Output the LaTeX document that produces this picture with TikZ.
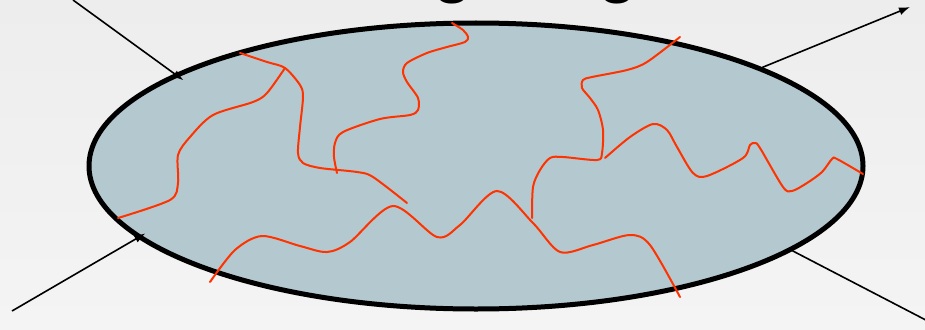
\documentclass[tikz,border=0pt]{standalone}
\usepackage{fontspec}
\newfontfamily\cimbetu{Liberation Sans}
\usetikzlibrary{arrows.meta,shapes.geometric}
\definecolor{hatterfent}{RGB}{237,237,237}
\definecolor{hatterlent}{RGB}{244,244,244}
\definecolor{kekes}{RGB}{180,200,207}
\definecolor{lancszin}{RGB}{255,51,0}
\tikzset{
  tartaly/.style={ellipse,draw,line width=5pt,fill=kekes,minimum width=774pt,minimum height=286pt,
                  inner sep=0pt},
  lanc/.style={lancszin,line width=2pt,line cap=round},
  nyil/.style={-{Latex[length=11pt,width=8pt]},line width=1.6pt},
  vonal/.style={line width=1.6pt},
  cim/.style={font=\cimbetu\bfseries\fontsize{64}{66}\selectfont,inner sep=0pt,anchor=base west},
}
\begin{document}
\begin{tikzpicture}[x=1pt,y=-1pt]
  \useasboundingbox (0,0) rectangle (925,329);
  \fill[top color=hatterfent,bottom color=hatterlent] (0,0) rectangle (925,329);
  \node[cim] (g1) at (433,-9) {g};
  \node[cim] (g2) at (598,-9) {g};
  \node[tartaly] (tartaly) at (476,166) {};
  \coordinate (be1) at (73,0);
  \coordinate (be2) at (12,311);
  \coordinate (ki1) at (910,7);
  \coordinate (ki2) at (945,330);
  \draw[nyil,shorten >=-11pt] (be1) -- (tartaly.163.4);
  \draw[nyil,shorten >=-9pt] (be2) -- (tartaly.192.4);
  \draw[nyil] (tartaly.19.2) -- (ki1);
  \draw[vonal] (tartaly.345.7) -- (ki2);
  \draw[lanc] plot[smooth] coordinates {(118,218) (170,200) (178,183) (178,155) (190,137) (213,115)
    (253,102) (267,93) (285,68)};
  \draw[lanc] plot[smooth] coordinates {(240,53) (267,62) (285,68) (300,85) (303,97) (300,127)
    (298,153) (303,163) (320,168) (357,172) (373,177) (407,203)};
  \draw[lanc] plot[smooth] coordinates {(452,23) (463,30) (468,37) (465,42) (447,47) (427,53)
    (407,63) (403,72) (407,82) (418,98) (418,110) (410,115) (380,119) (343,132) (335,143)
    (334,157) (337,173)};
  \draw[lanc] plot[smooth] coordinates {(210,282) (235,250) (262,236) (300,246) (327,252) (350,242)
    (393,206) (437,237) (460,225) (497,191) (533,223) (560,252) (593,245) (630,235) (650,245)
    (680,297)};
  \draw[lanc] plot[smooth] coordinates {(532,218) (533,187) (540,170) (550,158) (563,157) (597,160)
    (602,153) (603,130) (598,110) (590,98) (582,88) (583,80) (592,77) (627,70) (647,62) (680,37)};
  \draw[lanc] plot[smooth] coordinates {(605,158) (630,137) (653,124) (667,130) (677,147) (693,173)
    (707,176) (743,158) (750,145) (755,143) (760,148) (783,187) (792,191) (807,183) (822,172)
    (832,159) (837,159) (863,174)};
\end{tikzpicture}
\end{document}
